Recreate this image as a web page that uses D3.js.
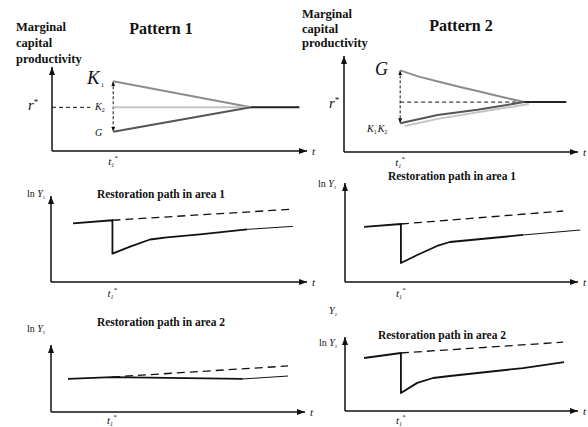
<!DOCTYPE html>
<html>
<head>
<meta charset="utf-8">
<script src="https://cdn.jsdelivr.net/npm/d3@7"></script>
<style>
  body { margin: 0; background: #fff; }
  text { font-family: "Liberation Serif", "Times New Roman", serif; fill: #111; }
</style>
</head>
<body>
<svg id="chart" width="588" height="427" font-family="Liberation Serif"></svg>
<script>
// time of the shock
const tStar = 2.4;

// Pattern 1: marginal capital productivity paths
const p1K1 = [[2.4, 8.3], [7.8, 5.2]];
const p1K2 = [[2.4, 5.2], [7.8, 5.2]];
const p1G = [[2.4, 2.3], [7.8, 5.2]];
const p1Steady = [[7.8, 5.2], [9.7, 5.2]];
const p1Rstar = [[0, 5.2], [1.5, 5.2]];
const p1Gap = [[2.4, 8.3], [2.4, 2.3]];

// Pattern 2
const p2G = [[2.4, 8.5], [3.2, 7.85], [4.1, 7.3], [5.0, 6.75], [5.7, 6.35], [6.8, 5.7], [7.7, 5.2]];
const p2K1 = [[2.4, 3.0], [4.0, 3.85], [5.7, 4.4], [7.7, 5.2]];
const p2K2 = [[2.6, 2.7], [4.0, 3.45], [7.9, 5.0]];
const p2Steady = [[7.7, 5.2], [9.5, 5.2]];
const p2Rstar = [[2.4, 5.2], [7.7, 5.2]];
const p2Gap = [[2.4, 8.5], [2.4, 3.0]];

// Restoration paths (ln Y): actual (solid), thin tail, trend (dashed)
const p3Actual = [[0.86, 6.82], [2.4, 7.18], [2.4, 3.29], [3.09, 4.12], [3.87, 4.94], [4.53, 5.18], [5.82, 5.53], [7.66, 6.12]];
const p3Tail = [[7.66, 6.12], [9.45, 6.47]];
const p3Trend = [[2.4, 7.18], [9.45, 8.47]];

const p4Actual = [[0.82, 5.56], [2.4, 5.86], [2.4, 1.92], [3.1, 2.73], [3.95, 3.64], [4.5, 4.04], [7.64, 4.75]];
const p4Tail = [[7.64, 4.75], [10.1, 5.25]];
const p4Trend = [[2.4, 5.86], [9.36, 7.17]];

const p5Actual = [[0.67, 4.93], [2.4, 5.22], [7.55, 4.93]];
const p5Tail = [[7.55, 4.93], [9.33, 5.37]];
const p5Trend = [[2.4, 5.22], [9.33, 6.87]];

const p6Actual = [[0.82, 7.16], [2.4, 7.84], [2.4, 2.43], [3.1, 3.8], [3.78, 4.46], [4.5, 4.73], [7.64, 5.8], [9.4, 6.6]];
const p6Tail = [];
const p6Trend = [[2.4, 7.84], [9.36, 9.3]];

const svg = d3.select("#chart");
const defs = svg.append("defs");

function marker(id, w, h) {
  defs.append("marker")
    .attr("id", id)
    .attr("viewBox", `0 0 ${w} ${h}`)
    .attr("refX", w).attr("refY", h / 2)
    .attr("markerWidth", w).attr("markerHeight", h)
    .attr("markerUnits", "userSpaceOnUse")
    .attr("orient", "auto-start-reverse")
    .append("path")
      .attr("d", `M0,0L${w},${h / 2}L0,${h}Z`)
      .attr("fill", "#111");
}
marker("arrow", 8, 6);
marker("arrowSmall", 5, 4);

// panel frames (pixel ranges for the scales)
const frames = {
  p1: {left: 52, right: 307, bottom: 151, top: 67},
  p2: {left: 344, right: 578, bottom: 152, top: 56},
  p3: {left: 51, right: 307, bottom: 282, top: 196},
  p4: {left: 345, right: 578, bottom: 282, top: 183},
  p5: {left: 51, right: 305, bottom: 412, top: 345},
  p6: {left: 345, right: 578, bottom: 411, top: 337}
};

function makePanel(f, tOffset = 14) {
  const x = d3.scaleLinear().domain([0, 10]).range([f.left, f.right]);
  const y = d3.scaleLinear().domain([0, 10]).range([f.bottom, f.top]);
  const g = svg.append("g");
  // axes with arrow heads
  g.append("line")
    .attr("x1", x(0)).attr("y1", y(0)).attr("x2", x(0)).attr("y2", y(10))
    .attr("stroke", "#111").attr("stroke-width", 1.5)
    .attr("marker-end", "url(#arrow)");
  g.append("line")
    .attr("x1", x(0)).attr("y1", y(0)).attr("x2", x(10)).attr("y2", y(0))
    .attr("stroke", "#111").attr("stroke-width", 1.5)
    .attr("marker-end", "url(#arrow)");
  g.append("text")
    .attr("x", x(10) + 5).attr("y", y(0) + 4)
    .attr("font-size", 11).attr("font-style", "italic")
    .text("t");
  // t1* label under the axis
  const tl = g.append("text")
    .attr("x", x(tStar) - 5).attr("y", y(0) + tOffset)
    .attr("font-size", 11).attr("font-style", "italic");
  tl.append("tspan").text("t");
  tl.append("tspan").attr("font-size", 6).attr("dy", 2).text("1");
  tl.append("tspan").attr("font-size", 7).attr("dy", -7).text("*");

  const line = d3.line().x(d => x(d[0])).y(d => y(d[1]));
  function path(data, color, width, dash, extra) {
    if (!data.length) return;
    const p = g.append("path")
      .attr("d", line(data))
      .attr("fill", "none")
      .attr("stroke", color)
      .attr("stroke-width", width)
      .attr("stroke-linejoin", "round");
    if (dash) p.attr("stroke-dasharray", dash);
    if (extra) extra(p);
  }
  return {x, y, g, path};
}

function label(parts, x, y, size, opts = {}) {
  const t = svg.append("text").attr("x", x).attr("y", y)
    .attr("font-size", size);
  if (opts.bold) t.attr("font-weight", "bold");
  if (opts.anchor) t.attr("text-anchor", opts.anchor);
  parts.forEach(p => {
    const s = t.append("tspan").text(p.text);
    if (p.italic) s.attr("font-style", "italic");
    if (p.size) s.attr("font-size", p.size);
    if (p.dy) s.attr("dy", p.dy);
    if (p.dx) s.attr("dx", p.dx);
  });
  return t;
}

function multiline(lines, x, y0, step, size) {
  lines.forEach((l, i) => label([{text: l}], x, y0 + i * step, size, {bold: true}));
}

// ---- Pattern 1 ----
const a = makePanel(frames.p1);
a.path(p1Rstar, "#111", 1, "4,3");
a.path(p1Gap, "#111", 1, "3,2", p => p.attr("marker-end", "url(#arrowSmall)").attr("marker-start", "url(#arrowSmall)"));
a.path(p1K1, "#8c8c8c", 2);
a.path(p1K2, "#c4c4c4", 2);
a.path(p1G, "#555", 2);
a.path(p1Steady, "#222", 2);

multiline(["Marginal", "capital", "productivity"], 16, 31, 16, 12.5);
label([{text: "Pattern 1"}], 161, 34, 16, {bold: true, anchor: "middle"});
label([{text: "r", italic: true}, {text: "*", size: 9, dy: -5}], 28, 110, 15);
label([{text: "K", italic: true}, {text: "1", size: 7, dy: 3, dx: 1}], 87, 84, 19);
label([{text: "K", italic: true}, {text: "2", size: 6, dy: 2}], 95, 110, 10);
label([{text: "G", italic: true}], 95, 136, 10);

// ---- Pattern 2 ----
const b = makePanel(frames.p2);
b.path(p2Rstar, "#111", 1, "4,3");
b.path(p2Gap, "#111", 1, "3,2", p => p.attr("marker-end", "url(#arrowSmall)").attr("marker-start", "url(#arrowSmall)"));
b.path(p2G, "#8c8c8c", 2);
b.path(p2K2, "#c4c4c4", 2);
b.path(p2K1, "#555", 2);
b.path(p2Steady, "#222", 2);

multiline(["Marginal", "capital", "productivity"], 302, 18, 14.5, 12.5);
label([{text: "Pattern 2"}], 461, 31, 16, {bold: true, anchor: "middle"});
label([{text: "r", italic: true}, {text: "*", size: 9, dy: -5}], 329, 108, 15);
label([{text: "G", italic: true}], 375, 75, 18);
label([{text: "K", italic: true}, {text: "1", size: 6, dy: 2}, {text: "K", italic: true, dy: -2, dx: 1}, {text: "2", size: 6, dy: 2}], 367, 132, 10);

// ---- Restoration paths ----
function restoration(frame, actual, tail, trend, tOffset) {
  const p = makePanel(frame, tOffset);
  p.path(trend, "#111", 1.3, "8,5");
  p.path(actual, "#111", 1.8);
  p.path(tail, "#111", 1);
  return p;
}
restoration(frames.p3, p3Actual, p3Tail, p3Trend, 15);
restoration(frames.p4, p4Actual, p4Tail, p4Trend, 15);
restoration(frames.p5, p5Actual, p5Tail, p5Trend, 12);
restoration(frames.p6, p6Actual, p6Tail, p6Trend, 13);

label([{text: "Restoration path in area 1"}], 161, 198, 11.5, {bold: true, anchor: "middle"});
label([{text: "Restoration path in area 1"}], 452, 180, 11.5, {bold: true, anchor: "middle"});
label([{text: "Restoration path in area 2"}], 161, 326, 11.5, {bold: true, anchor: "middle"});
label([{text: "Restoration path in area 2"}], 442, 339, 11.5, {bold: true, anchor: "middle"});

label([{text: "ln "}, {text: "Y", italic: true}, {text: "1", size: 5, dy: 2}], 27, 197, 10);
label([{text: "ln "}, {text: "Y", italic: true}, {text: "1", size: 5, dy: 2}], 318, 187, 10);
label([{text: "ln "}, {text: "Y", italic: true}, {text: "2", size: 5, dy: 2}], 27, 332, 10);
label([{text: "ln "}, {text: "Y", italic: true}, {text: "2", size: 5, dy: 2}], 319, 346, 10);
label([{text: "Y", italic: true}, {text: "2", size: 5, dy: 2}], 329, 314, 10);
</script>
</body>
</html>
